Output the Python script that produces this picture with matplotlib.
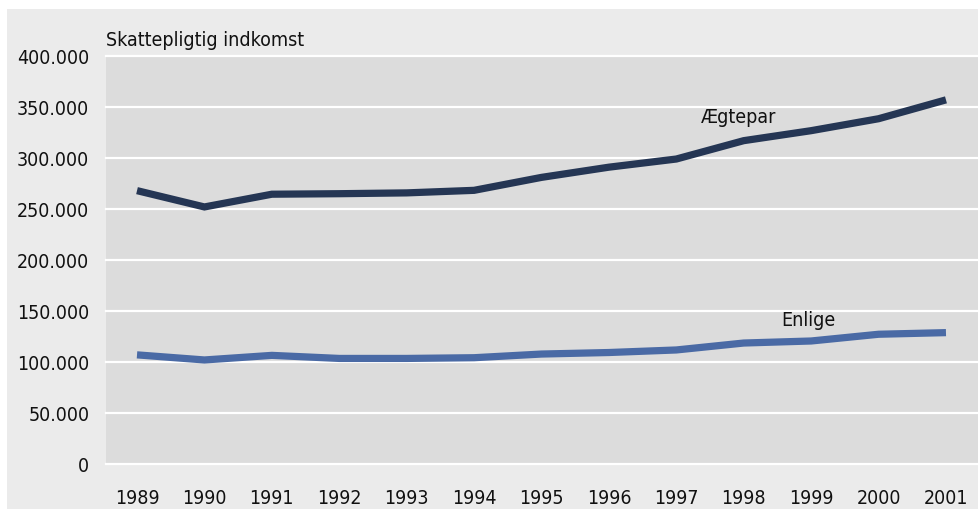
import matplotlib
matplotlib.use("Agg")
import matplotlib.pyplot as plt
from matplotlib.ticker import FuncFormatter, MultipleLocator
from matplotlib.patches import Rectangle
from matplotlib import font_manager as fm

years = [1989, 1990, 1991, 1992, 1993, 1994, 1995, 1996, 1997, 1998, 1999, 2000, 2001]
aegtepar = [268000, 252000, 264500, 265000, 265800, 268300, 281000, 291000, 299000, 317000, 326800, 338500, 357000]
enlige = [107000, 102000, 106500, 103500, 103500, 104200, 107800, 109300, 111800, 118600, 120600, 127200, 128800]
ylabel_text = "Skattepligtig indkomst"
series_labels = ["Ægtepar", "Enlige"]

names = sorted(set((f.name, f.stretch) for f in fm.fontManager.ttflist))
print(names)

plt.rcParams['font.family'] = ['DejaVu Sans']
plt.rcParams['font.stretch'] = 'condensed'

W, H = 979, 510
fig = plt.figure(figsize=(W / 100, H / 100), dpi=100)
fig.patch.set_facecolor('white')
fig.patches.append(Rectangle((7 / W, 0), 1 - 7 / W, 1 - 10 / H, transform=fig.transFigure,
                             facecolor='#ebebeb', edgecolor='none', zorder=-10))

ax = fig.add_axes([106 / W, 1 - 465 / H, 1 - 106 / W, (465 - 57) / H])
ax.set_zorder(1)
ax.set_facecolor('#dcdcdc')
for s in ax.spines.values():
    s.set_visible(False)

ax.set_ylim(0, 400000)
ax.set_xlim(1988.54, 2001.49)
ax.yaxis.set_major_locator(MultipleLocator(50000))
ax.yaxis.set_major_formatter(FuncFormatter(lambda v, p: f"{int(v):,}".replace(",", ".")))
ax.set_xticks(years)
ax.set_xticklabels([str(y) for y in years])
ax.grid(axis='y', color='white', linewidth=1.6, clip_on=False)
ax.set_axisbelow(True)
ax.tick_params(axis='both', length=0, labelsize=14, colors='#111111')
ax.tick_params(axis='y', pad=12)
ax.tick_params(axis='x', pad=17)

ax.plot(years, aegtepar, color='#253654', linewidth=5.2, solid_capstyle='butt', solid_joinstyle='miter', zorder=3)
ax.plot(years, enlige, color='#4a6aa5', linewidth=5.2, solid_capstyle='butt', solid_joinstyle='miter', zorder=3)

ax.text(1997.93, 335000, series_labels[0], ha='center', va='baseline', fontsize=14, color='#111111')
ax.text(1998.96, 136000, series_labels[1], ha='center', va='baseline', fontsize=14, color='#111111')

ax.text(0, 1 + 11 / (465 - 57), ylabel_text, transform=ax.transAxes, ha='left', va='baseline',
        fontsize=14, color='#111111')

fig.savefig('out.png', dpi=100, facecolor=fig.get_facecolor())
